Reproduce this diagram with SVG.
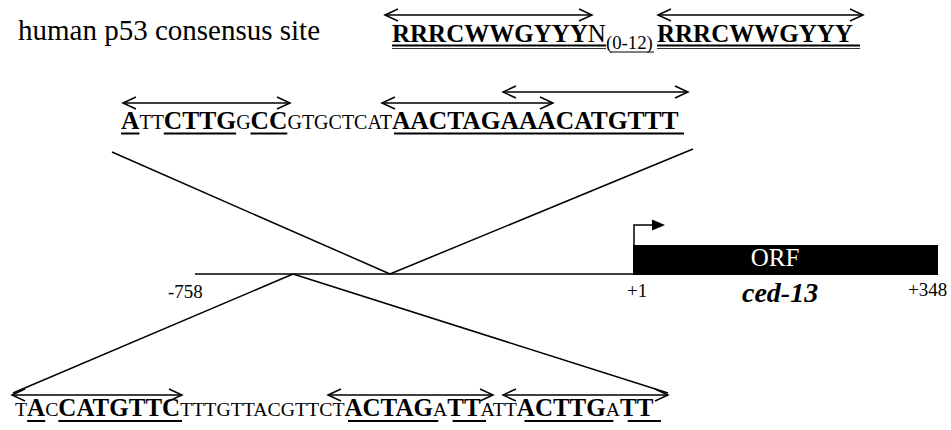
<svg xmlns="http://www.w3.org/2000/svg" width="951" height="430" viewBox="0 0 951 430">
<defs>
<style>
text{font-family:"Liberation Serif","Times New Roman",serif;fill:#000}
.b{font-weight:bold}
.ln{stroke:#000;stroke-width:1.5;fill:none}
.ul{stroke:#000;stroke-width:2;fill:none}
.ar{stroke:#000;stroke-width:1.5;fill:none;marker-start:url(#chev);marker-end:url(#chev)}
</style>
<marker id="chev" markerUnits="userSpaceOnUse" orient="auto-start-reverse" refX="0" refY="0" markerWidth="20" markerHeight="20" overflow="visible">
<path d="M-13,-6 L0,0 L-13,6" fill="none" stroke="#000" stroke-width="1.5"/>
</marker>
</defs>
<rect width="951" height="430" fill="#fff"/>

<g id="consensus">
<text x="18" y="40" font-size="29">human p53 consensus site</text>
<text y="42" font-size="25"><tspan x="392" class="b">RRRCWWGYYY</tspan><tspan>N</tspan><tspan font-size="18.8" dy="7">(0-12)</tspan></text>
<text x="657" y="42" font-size="25" class="b">RRRCWWGYYY</text>
<line class="ul" x1="392" y1="45.5" x2="606" y2="45.5"/>
<line stroke="#000" stroke-width="0.8" x1="392" y1="48.5" x2="606" y2="48.5"/>
<line stroke="#000" stroke-width="1" x1="610" y1="52" x2="654" y2="52"/>
<line class="ul" x1="657" y1="45.5" x2="860" y2="45.5"/>
<line stroke="#000" stroke-width="0.8" x1="657" y1="48.5" x2="860" y2="48.5"/>
<line class="ar" x1="385" y1="15" x2="592" y2="15"/>
<line class="ar" x1="658" y1="15" x2="863" y2="15"/>
</g>

<g id="upper-site">
<text x="121" y="129" font-size="20"><tspan class="b" font-size="25.5">A</tspan><tspan>TT</tspan><tspan class="b" font-size="25.5">CTTG</tspan><tspan>G</tspan><tspan class="b" font-size="25.5">CC</tspan><tspan>GTGCTCAT</tspan><tspan class="b" font-size="25.5">AACTAGAAACATGTTT</tspan></text>
<line class="ul" x1="121" y1="133.5" x2="139.4" y2="133.5"/>
<line class="ul" x1="163.8" y1="133.5" x2="236.1" y2="133.5"/>
<line class="ul" x1="250.5" y1="133.5" x2="287.3" y2="133.5"/>
<line class="ul" x1="394" y1="133.5" x2="684" y2="133.5"/>
<line class="ar" x1="123" y1="103" x2="290" y2="103"/>
<line class="ar" x1="382" y1="103" x2="553" y2="103"/>
<line class="ar" x1="503" y1="92" x2="688" y2="92"/>
</g>

<g id="lower-site">
<text x="15" y="416" font-size="19.8"><tspan>T</tspan><tspan class="b" font-size="25">A</tspan><tspan>C</tspan><tspan class="b" font-size="25">CATGTTC</tspan><tspan>TTTGTTACGTTCT</tspan><tspan class="b" font-size="25">ACTAG</tspan><tspan>A</tspan><tspan class="b" font-size="25">TT</tspan><tspan>ATT</tspan><tspan class="b" font-size="25">ACTTG</tspan><tspan>A</tspan><tspan class="b" font-size="25">TT</tspan></text>
<line class="ul" x1="27.1" y1="421" x2="45.2" y2="421"/>
<line class="ul" x1="58.4" y1="421" x2="182" y2="421"/>
<line class="ul" x1="348" y1="421" x2="438.3" y2="421"/>
<line class="ul" x1="452.6" y1="421" x2="486" y2="421"/>
<line class="ul" x1="524.5" y1="421" x2="613.4" y2="421"/>
<line class="ul" x1="627.7" y1="421" x2="661" y2="421"/>
<line class="ar" x1="12" y1="395" x2="182" y2="395"/>
<line class="ar" x1="328" y1="395" x2="493" y2="395"/>
<line class="ar" x1="503" y1="395" x2="668" y2="395"/>
</g>

<g id="gene">
<line class="ln" x1="195" y1="274" x2="634" y2="274"/>
<rect x="633" y="245" width="305" height="30" fill="#000"/>
<path class="ln" d="M634,245 V225 H653"/>
<path d="M652,219.5 L665,225 L652,230.5 Z" fill="#000"/>
<text x="775" y="266" font-size="25" text-anchor="middle" style="fill:#fff">ORF</text>
<text x="168" y="298" font-size="19">-758</text>
<text x="627" y="297" font-size="19">+1</text>
<text x="908" y="296" font-size="19">+348</text>
<text x="742" y="302" font-size="28" class="b" font-style="italic">ced-13</text>
</g>

<g id="connectors">
<line class="ln" x1="112" y1="152" x2="390" y2="274"/>
<line class="ln" x1="693" y1="149" x2="390" y2="274"/>
<line class="ln" x1="293" y1="274" x2="13" y2="393"/>
<line class="ln" x1="293" y1="274" x2="668" y2="393"/>
</g>
</svg>
